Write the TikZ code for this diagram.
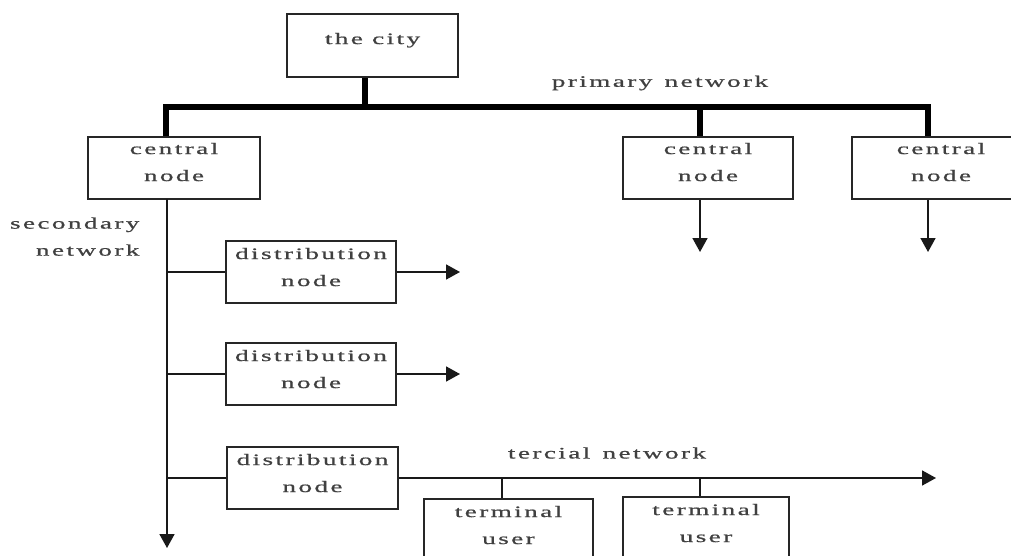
\documentclass[tikz,border=0pt]{standalone}
\usepackage{fontspec}
\setmainfont{Liberation Serif}[FakeStretch=1.7,FakeBold=0.8,LetterSpace=15]
\usetikzlibrary{arrows.meta}
\begin{document}
\begin{tikzpicture}[x=1pt,y=-1pt,
  txt/.style={font=\fontsize{16}{27}\selectfont, text=black!75},
  box/.style={draw=black!85, line width=1.8pt, fill=white, rectangle,
    minimum width=#1, minimum height=62pt, align=center, inner sep=0pt,
    text depth=11pt, txt},
  box/.default=170pt,
  link/.style={draw=black!90, line width=1.7pt},
  bus/.style={draw=black, line width=6.5pt},
  tip/.style={-{Triangle[length=14pt,width=15pt]}}]
\useasboundingbox (0,0) rectangle (1011,556);
\clip (0,0) rectangle (1011,556);

% primary network junction points
\coordinate (bc) at (365,107);
\coordinate (b1) at (166,107);
\coordinate (b2) at (700,107);
\coordinate (b3) at (928,107);

% nodes
\node[box=171pt, minimum height=63pt, text depth=14pt] (city) at (372.5,45.5) {the city};
\node[box=172pt, text depth=12pt] (c1) at (174,168) {central\\node};
\node[box=170pt, text depth=12pt] (c2) at (708,168) {central\\node};
\node[box=178pt, text depth=12pt] (c3) at (941,168) {central\\node};
\node[box=170pt, text depth=10pt] (d1) at (311,272) {distribution\\node};
\node[box=170pt, text depth=10pt] (d2) at (311,374) {distribution\\node};
\node[box=171pt, text depth=10pt] (d3) at (312.5,478) {distribution\\node};
\node[box=169pt, text depth=10pt] (t1) at (508.5,530) {terminal\\user};
\node[box=166pt, text depth=10pt] (t2) at (706,528) {terminal\\user};

% labels
\node[txt] (lp) at (660,83) {primary\hspace{3pt} network};
\node[txt, align=right, anchor=north east] (ls) at (143,214) {secondary\\network};
\node[txt] (lt) at (607,453) {tercial\hspace{3pt} network};

% primary network (thick bus)
\draw[bus] (city.south -| bc) -- (bc);
\draw[bus] (c1.north -| b1) -- (b1) -- (b3) -- (c3.north -| b3);
\draw[bus] (b2) -- (c2.north -| b2);

% outgoing arrows of the other central nodes
\coordinate (e2) at (700,252);
\coordinate (e3) at (928,252);
\draw[link, tip] (c2.south -| e2) -- (e2);
\draw[link, tip] (c3.south -| e3) -- (e3);

% secondary network trunk
\coordinate (s0) at (167,199);
\coordinate (s1) at (167,548);
\draw[link, tip] (s0) -- (s1);
\draw[link] (d1.west -| s0) -- (d1.west);
\draw[link] (d2.west -| s0) -- (d2.west);
\draw[link] (d3.west -| s0) -- (d3.west);

% distribution outputs
\coordinate (o1) at (460,272);
\coordinate (o2) at (460,374);
\draw[link, tip] (d1.east) -- (o1);
\draw[link, tip] (d2.east) -- (o2);

% tercial network
\coordinate (te) at (936,478);
\coordinate (u1) at (502,478);
\coordinate (u2) at (700,478);
\draw[link, tip] (d3.east) -- (te);
\draw[link] (u1) -- (t1.north -| u1);
\draw[link] (u2) -- (t2.north -| u2);
\end{tikzpicture}
\end{document}
